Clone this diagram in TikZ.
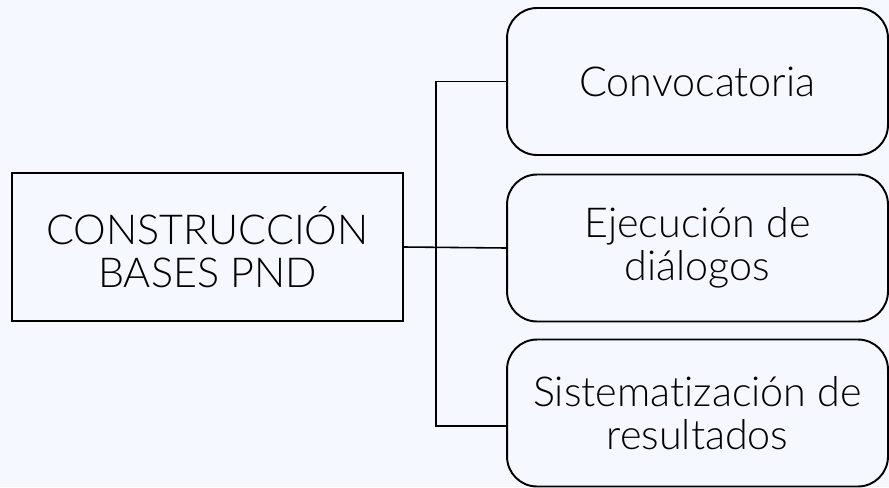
\documentclass[tikz,border=0pt]{standalone}
\usepackage{fontspec}
\setmainfont[Ligatures=NoCommon]{Lato Light}
\definecolor{bgblue}{HTML}{F5F8FE}
\begin{document}
\begin{tikzpicture}[x=0.02cm, y=-0.02cm,
  every node/.style = {font=\fontsize{23.5}{24.5}\selectfont, align=center, line width=1.1pt, inner sep=0pt},
  rootbox/.style = {draw, minimum width=7.82cm, minimum height=2.96cm},
  stagebox/.style = {draw, rounded corners=0.6cm, minimum width=7.62cm, minimum height=2.94cm}]
\fill [bgblue] (0,0) rectangle (889,487);
\useasboundingbox (0,0) rectangle (889,487);
\node [rootbox] (root) at (207.5,247) {CONSTRUCCIÓN\\BASES PND};
\node [stagebox] (conv) at (697.5,81.5) {Convocatoria};
\node [stagebox] (ejec) at (697.5,248) {Ejecución de\\diálogos};
\node [stagebox] (sist) at (697.5,413) {Sistematización de\\resultados};
\coordinate (bus) at (436,247);
\draw [line width=0.9pt] (root.east) -- (ejec.west);
\draw [line width=0.9pt] (conv.west) -| (bus) |- ([yshift=-0.26cm]sist.west);
\end{tikzpicture}
\end{document}
